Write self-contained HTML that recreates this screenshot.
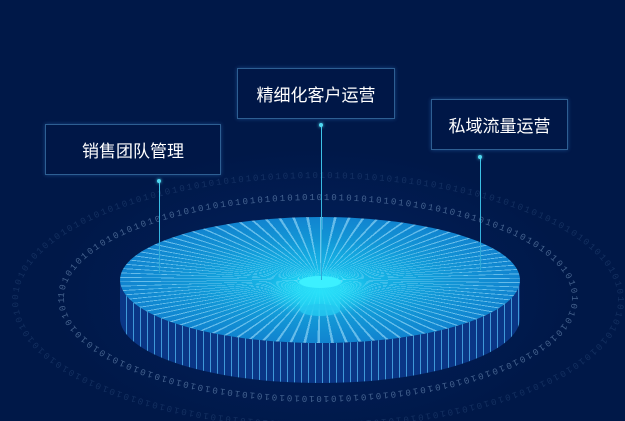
<!DOCTYPE html>
<html><head><meta charset="utf-8"><style>
html,body{margin:0;padding:0;background:#001848;}
#c{position:relative;width:625px;height:421px;overflow:hidden;background:radial-gradient(ellipse 60% 50% at 50% 70%,#032260 0%,#001848 70%);font-family:"Liberation Sans","Noto Sans CJK SC",sans-serif;}
.box{position:absolute;border:1px solid #2e5f93;background:rgba(0,24,72,0.6);color:#fff;font-size:17px;display:flex;align-items:center;justify-content:center;box-sizing:border-box;box-shadow:0 0 4px rgba(60,140,220,.4);}
.ln{position:absolute;width:1px;background:linear-gradient(#3fc6e8,#2fa8d8);}
.dot{position:absolute;width:4px;height:4px;border-radius:50%;background:#4fd7f0;box-shadow:0 0 3px #4fd7f0;}
#top{position:absolute;left:120px;top:80px;width:400px;height:400px;border-radius:50%;transform:scaleY(0.315);
background:repeating-conic-gradient(from 0deg,rgba(170,230,255,.55) 0deg 0.8deg,transparent 0.8deg 4deg),radial-gradient(circle,#18c8f0 0%,#1296d6 45%,#0f6fc8 100%);}
</style></head><body><div id="c">
<svg width="625" height="421" style="position:absolute;left:0;top:0">
<defs>
<pattern id="st" width="7" height="50" patternUnits="userSpaceOnUse"><rect width="7" height="50" fill="#0a3686"/><rect width="1" height="50" fill="#3f98d8"/></pattern>
<path id="r1" d="M64,298 A254,98 0 1,1 572,298 A254,98 0 1,1 64,298"/>
<path id="r2" d="M18,300 A300,122 0 1,1 618,300 A300,122 0 1,1 18,300"/>
</defs>
<text font-size="9" fill="#7fb0e0" opacity=".15" font-family="Liberation Mono,monospace" letter-spacing="2"><textPath href="#r2">0101010101010101010101010101010101010101010101010101010101010101010101010101010101010101010101010101010101010101010101010101010101010101010101010101010101010101010101010101010101010101010</textPath></text>
<text font-size="9" fill="#a9cdf0" opacity=".4" font-family="Liberation Mono,monospace" letter-spacing="2"><textPath href="#r1">1010101010101010101010101010101010101010101010101010101010101010101010101010101010101010101010101010101010101010101010101010101010101010101010101010101010101010101010</textPath></text>
<path d="M120,280 A200,63 0 0,0 520,280 L520,318 A200,65 0 0,1 120,318 Z" fill="url(#st)"/>
</svg>
<div id="top"></div>
<svg width="625" height="421" style="position:absolute;left:0;top:0">
<defs><radialGradient id="gl"><stop offset="0" stop-color="#2ef0ff" stop-opacity=".9"/><stop offset="1" stop-color="#2ef0ff" stop-opacity="0"/></radialGradient></defs>
<ellipse cx="320" cy="292" rx="55" ry="25" fill="url(#gl)"/>
<rect x="300" y="282" width="40" height="28" fill="#26d8f5" opacity=".55"/>
<ellipse cx="320" cy="282" rx="21" ry="6" fill="#3cf0ff"/>
<ellipse cx="320" cy="310" rx="20" ry="6" fill="#26c8f0" opacity=".8"/>
</svg>
<div class="box" style="left:45px;top:124px;width:176px;height:51px">销售团队管理</div>
<div class="box" style="left:237px;top:68px;width:158px;height:51px">精细化客户运营</div>
<div class="box" style="left:431px;top:99px;width:137px;height:51px">私域流量运营</div>
<div class="ln" style="left:159px;top:181px;height:92px"></div><div class="dot" style="left:157px;top:179px"></div>
<div class="ln" style="left:321px;top:125px;height:155px"></div><div class="dot" style="left:319px;top:123px"></div>
<div class="ln" style="left:480px;top:157px;height:113px"></div><div class="dot" style="left:478px;top:155px"></div>
</div></body></html>
